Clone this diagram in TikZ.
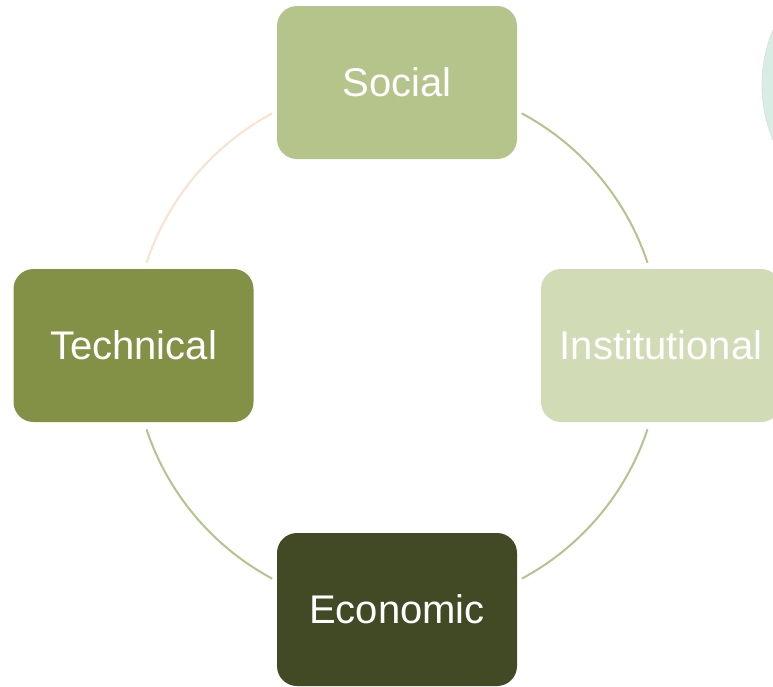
\documentclass[tikz,border=0pt]{standalone}
\usepackage{fontspec}
\setmainfont{Liberation Sans}
\definecolor{socialc}{HTML}{B5C48A}
\definecolor{instc}{HTML}{D1DCB6}
\definecolor{techc}{HTML}{839147}
\definecolor{econc}{HTML}{414A24}
\definecolor{arcg}{HTML}{B3C48C}
\definecolor{arcp}{HTML}{F8E3D0}
\definecolor{mint}{HTML}{D8EEE5}
\tikzset{
  box/.style={rectangle, rounded corners=20pt, minimum width=240pt, minimum height=153pt, inner sep=0pt, text=white, font=\fontsize{40}{48}\selectfont},
  ring/.style={line width=2pt}
}
\begin{document}
\begin{tikzpicture}[x=1pt,y=-1pt]
\useasboundingbox (0,0) rectangle (773,686);
\clip (0,0) rectangle (773,686);
\fill[white] (0,0) rectangle (773,686);
\fill[mint, draw=gray!25, line width=0.8pt] (905,85) circle[radius=143];
\coordinate (c) at (397,346);
\node[box, fill=socialc] (social) at (397,82.5) {Social};
\node[box, fill=instc] (inst) at (661,345.5) {Institutional};
\node[box, fill=techc] (tech) at (133.5,345.5) {Technical};
\node[box, fill=econc] (econ) at (397,609.5) {Economic};
\draw[ring, arcg] (c) ++(-61.8:264) arc[start angle=-61.8, end angle=-18.4, radius=264];
\draw[ring, arcg] (c) ++(18.4:264) arc[start angle=18.4, end angle=61.8, radius=264];
\draw[ring, arcg] (c) ++(118.2:264) arc[start angle=118.2, end angle=161.6, radius=264];
\draw[ring, arcp] (c) ++(-118.2:264) arc[start angle=-118.2, end angle=-161.6, radius=264];
\end{tikzpicture}
\end{document}
